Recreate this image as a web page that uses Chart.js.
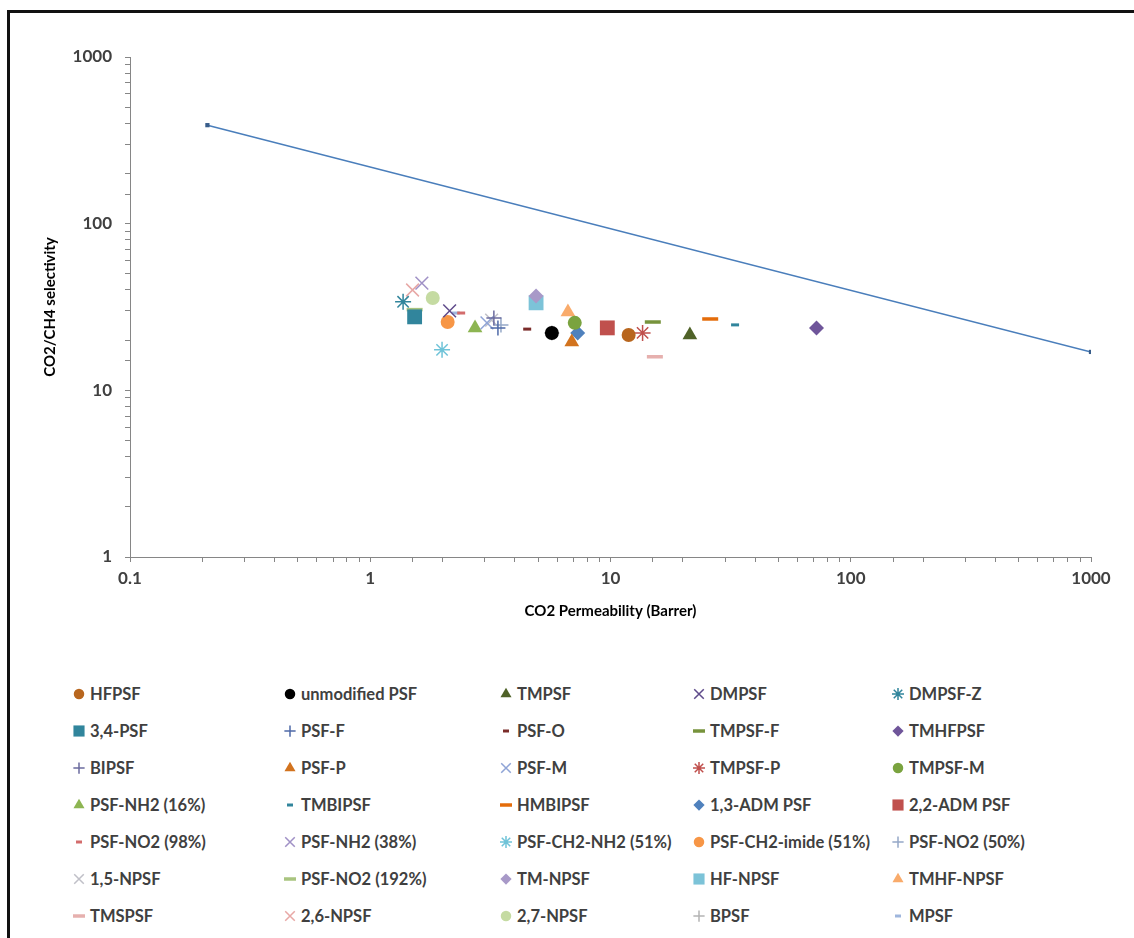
<!DOCTYPE html>
<html>
<head>
<meta charset="utf-8">
<title>CO2/CH4 selectivity vs permeability</title>
<script src="https://cdn.jsdelivr.net/npm/chart.js@4.4.0/dist/chart.umd.min.js"></script>
<style>
    html, body { margin: 0; padding: 0; background: #fff; }
    #wrap { position: relative; width: 1134px; height: 938px; overflow: hidden; font-family: Lato, "Open Sans", sans-serif; }
    #chartBox { position: absolute; left: 0; top: 0; width: 1134px; height: 650px; }
    #frame { position: absolute; left: 7px; top: 10px; width: 1200px; height: 1000px; border-left: 3px solid #111; border-top: 3px solid #111; pointer-events: none; }
    .item { position: absolute; height: 20px; display: flex; align-items: center; font-size: 16.5px; font-weight: bold; color: #404040; white-space: nowrap; }
    .item canvas { width: 18px; height: 16px; margin-right: 2px; }
</style>
</head>
<body>
<div id="wrap">
    <div id="chartBox"><canvas id="plot"></canvas></div>
    <div id="legend"></div>
    <div id="frame"></div>
</div>
<script>
// Series names (legend order)
const seriesNames = [
    'HFPSF', 'unmodified PSF', 'TMPSF', 'DMPSF', 'DMPSF-Z',
    '3,4-PSF', 'PSF-F', 'PSF-O', 'TMPSF-F', 'TMHFPSF',
    'BIPSF', 'PSF-P', 'PSF-M', 'TMPSF-P', 'TMPSF-M',
    'PSF-NH2 (16%)', 'TMBIPSF', 'HMBIPSF', '1,3-ADM PSF', '2,2-ADM PSF',
    'PSF-NO2 (98%)', 'PSF-NH2 (38%)', 'PSF-CH2-NH2 (51%)', 'PSF-CH2-imide (51%)', 'PSF-NO2 (50%)',
    '1,5-NPSF', 'PSF-NO2 (192%)', 'TM-NPSF', 'HF-NPSF', 'TMHF-NPSF',
    'TMSPSF', '2,6-NPSF', '2,7-NPSF', 'BPSF', 'MPSF'
];

// CO2 permeability (Barrer)
const permeability = [
    11.9, 5.7, 21.4, 2.14, 1.37,
    1.53, 3.4, 4.5, 15.0, 72,
    3.27, 6.9, 3.06, 13.6, 7.1,
    2.73, 33, 26, 7.3, 9.7,
    2.39, 1.64, 1.99, 2.1, 3.5,
    3.2, 1.53, 4.9, 4.9, 6.65,
    15.3, 1.5, 1.82, 5.7, 2.27
];

// CO2/CH4 selectivity
const selectivity = [
    21.5, 22.1, 21.5, 30, 34,
    27.6, 23.7, 23.3, 25.7, 23.7,
    27.2, 19.5, 25.4, 22.1, 25.4,
    23.7, 24.7, 26.8, 22.1, 23.7,
    29.1, 44, 17.5, 25.7, 24.7,
    26.4, 30.5, 36.8, 33.5, 29.5,
    15.9, 40, 35.8, 22.1, 29.1
];

// Upper bound line
const boundX = [0.21, 1000];
const boundY = [390, 17];

const xTicks = [0.1, 1, 10, 100, 1000];
const yTicks = [1, 10, 100, 1000];

const markerColors = [
    '#B8661E', '#000000', '#4F6228', '#5F4B8B', '#31859C',
    '#31859C', '#4F6AA8', '#7B2C2A', '#77933C', '#6F559A',
    '#6B6B9E', '#D2731E', '#8FA4D6', '#C0504D', '#7AA33F',
    '#8DB552', '#31859C', '#E46C0A', '#4F81BD', '#C0504D',
    '#D36C6C', '#A091C6', '#6FC3D8', '#F79646', '#95A8C8',
    '#C0C0C8', '#A9C47F', '#A899C8', '#7CC3D8', '#F9AB6B',
    '#E6B0AE', '#E8A8A6', '#C5DBA2', '#B4B4B4', '#9FB6DD'
];

const markerShapes = [
    'circle', 'circle', 'triangle', 'x', 'star',
    'square', 'plus', 'dash', 'longdash', 'diamond',
    'plus', 'triangle', 'x', 'star', 'circle',
    'triangle', 'dash', 'longdash', 'diamond', 'square',
    'dash', 'x', 'star', 'circle', 'plus',
    'x', 'longdash', 'diamond', 'square', 'triangle',
    'longdash', 'x', 'circle', 'plus', 'dash'
];

const shapeMap = {
    circle:   { ps: 'circle',   r: 7,   bw: 0 },
    triangle: { ps: 'triangle', r: 8.5, bw: 0 },
    x:        { ps: 'crossRot', r: 9,   bw: 1.5 },
    star:     { ps: 'star',     r: 8,   bw: 1.5 },
    square:   { ps: 'rect',     r: 10.5, bw: 0 },
    plus:     { ps: 'cross',    r: 7.5, bw: 1.5 },
    dash:     { ps: 'line',     r: 4,   bw: 3 },
    longdash: { ps: 'line',     r: 8,   bw: 3.5 },
    diamond:  { ps: 'rectRot',  r: 7.5, bw: 0 }
};

const FONT = 'Lato, "Open Sans", sans-serif';
const AXIS_GREY = '#868686';

function isDecade(v) {
    const l = Math.log10(v);
    return Math.abs(l - Math.round(l)) < 1e-9;
}

const datasets = [{
    label: 'bound',
    data: boundX.map((x, i) => ({ x: x, y: boundY[i] })),
    showLine: true,
    borderColor: '#4A7EBB',
    borderWidth: 1.5,
    pointStyle: 'rect',
    pointRadius: 3,
    pointBackgroundColor: '#385D8A',
    pointBorderWidth: 0
}];

seriesNames.forEach((name, i) => {
    const s = shapeMap[markerShapes[i]];
    datasets.push({
        label: name,
        data: [{ x: permeability[i], y: selectivity[i] }],
        showLine: false,
        pointStyle: s.ps,
        pointRadius: s.r,
        pointBorderWidth: s.bw,
        pointBackgroundColor: markerColors[i],
        pointBorderColor: markerColors[i]
    });
});

const ctx = document.getElementById('plot').getContext('2d');
const chart = new Chart(ctx, {
    type: 'scatter',
    data: { datasets: datasets },
    options: {
        responsive: true,
        maintainAspectRatio: false,
        animation: false,
        events: [],
        layout: { padding: { left: 38, top: 57, right: 43, bottom: 23 } },
        plugins: { legend: { display: false }, tooltip: { enabled: false } },
        scales: {
            x: {
                type: 'logarithmic',
                min: 0.1,
                max: 1000,
                afterFit: (s) => { s.height = 70; },
                grid: { drawOnChartArea: false, drawTicks: true, tickLength: 5, color: AXIS_GREY },
                border: { color: AXIS_GREY, width: 1 },
                ticks: {
                    autoSkip: false,
                    maxRotation: 0,
                    padding: 6,
                    color: '#404040',
                    font: { family: FONT, size: 17, weight: 'bold' },
                    callback: (v) => (isDecade(v) && xTicks.includes(Number(v.toPrecision(3)))) ? String(Number(v.toPrecision(3))) : ''
                },
                title: {
                    display: true,
                    text: 'CO2 Permeability (Barrer)',
                    color: '#000',
                    font: { family: FONT, size: 15, weight: 'bold' },
                    padding: { top: 0, bottom: 7 }
                }
            },
            y: {
                type: 'logarithmic',
                min: 1,
                max: 1000,
                afterFit: (s) => { s.width = 92; },
                grid: { drawOnChartArea: false, drawTicks: true, tickLength: 5, color: AXIS_GREY },
                border: { color: AXIS_GREY, width: 1 },
                ticks: {
                    autoSkip: false,
                    padding: 13,
                    color: '#404040',
                    font: { family: FONT, size: 17, weight: 'bold' },
                    callback: (v) => (isDecade(v) && yTicks.includes(Number(v.toPrecision(3)))) ? String(Number(v.toPrecision(3))) : ''
                },
                title: {
                    display: true,
                    text: 'CO2/CH4 selectivity',
                    color: '#000',
                    font: { family: FONT, size: 15, weight: 'bold' },
                    padding: { top: 3, bottom: 0 }
                }
            }
        }
    }
});

// Legend (5 columns x 7 rows)
const legendCols = [79, 290, 506, 699, 898];
const legendRows = [694, 731, 768, 805, 842, 879, 916];
const legend = document.getElementById('legend');

seriesNames.forEach((name, i) => {
    const col = i % 5;
    const row = Math.floor(i / 5);
    const item = document.createElement('div');
    item.className = 'item';
    item.style.left = (legendCols[col] - 9) + 'px';
    item.style.top = (legendRows[row] - 10) + 'px';

    const c = document.createElement('canvas');
    c.width = 18;
    c.height = 16;
    const g = c.getContext('2d');
    const s = shapeMap[markerShapes[i]];
    g.fillStyle = markerColors[i];
    g.strokeStyle = markerColors[i];
    g.lineWidth = s.bw;
    Chart.helpers.drawPoint(g, { pointStyle: s.ps, radius: s.r * 0.75, borderWidth: s.bw, rotation: 0 }, 9, 8);
    item.appendChild(c);

    const t = document.createElement('span');
    t.textContent = name;
    item.appendChild(t);
    legend.appendChild(item);
});
</script>
</body>
</html>
